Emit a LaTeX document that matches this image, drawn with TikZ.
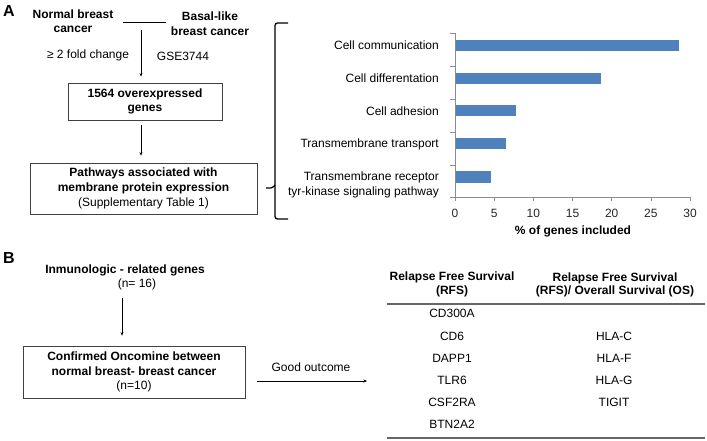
\documentclass[tikz,border=0pt]{standalone}
\usepackage{fontspec}
\setmainfont{Liberation Sans}
\usetikzlibrary{arrows.meta}
\definecolor{barblue}{HTML}{4F81BD}
\begin{document}
\begin{tikzpicture}[x=1pt,y=-1pt,
  txt/.style={inner sep=0pt, align=center, font=\fontsize{12}{14.5}\selectfont},
  btxt/.style={inner sep=0pt, align=center, font=\fontsize{12}{14.5}\selectfont\bfseries},
  rtxt/.style={inner sep=0pt, align=right, anchor=east, font=\fontsize{12}{15.5}\selectfont},
  fbox/.style={draw=black!75, line width=0.8pt, inner sep=0pt, align=center, font=\fontsize{12}{14.5}\selectfont},
  arr/.style={-{Stealth[length=3.5pt,width=3pt]}, line width=0.6pt},
  axisline/.style={draw=black!45, line width=0.6pt},
  rulestyle/.style={draw=black!60, line width=1.4pt},
  letter/.style={inner sep=0pt, font=\fontsize{16}{18}\selectfont\bfseries}]
\useasboundingbox (0,0) rectangle (707,441);

% ---------- Panel A ----------
\node[letter] (A) at (9,11) {A};
\node[btxt] (nb) at (73,21) {Normal breast\\cancer};
\node[btxt] (bl) at (210,23.5) {Basal-like\\breast cancer};
\coordinate (l1) at (123,22);
\coordinate (l2) at (166,22);
\draw[line width=0.6pt] (l1) -- (l2);
\node[txt] (fc) at (88,55) {≥ 2 fold change};
\node[txt] (gse) at (183,56) {GSE3744};

\node[fbox, minimum width=154pt, minimum height=37pt] (b1) at (145,101.5)
  {\textbf{1564 overexpressed}\\\textbf{genes}};
\node[fbox, minimum width=227pt, minimum height=51pt, font=\fontsize{12}{15}\selectfont] (b2) at (143.5,188.5)
  {\textbf{Pathways associated with}\\\textbf{membrane protein expression}\\(Supplementary Table 1)};

\coordinate (a1s) at (141,30);
\draw[arr, shorten >=6pt] (a1s) -- (a1s |- b1.north);
\coordinate (a2s) at (141,125);
\draw[arr, shorten >=7pt] (a2s) -- (a2s |- b2.north);

% bracket
\coordinate (bt) at (288,23);
\coordinate (bb) at (288,219);
\coordinate (bn) at (266,188);
\draw[line width=1.3pt, rounded corners=2.5pt] (bt) -- (275,23) -- (275,219) -- (bb);
\draw[line width=1.3pt, rounded corners=2pt] (bn) -- (273,188) -- (275,185);

% chart
\foreach \v/\yy in {28.6/46, 18.6/78.5, 7.8/111, 6.5/144, 4.6/177}
  \fill[barblue] (455,\yy-5.5) rectangle ({455+7.833*\v},\yy+5.5);
\draw[axisline] (455,33) -- (455,197) -- (690,197);
\foreach \yy in {33,66,99,132,165,197}
  \draw[axisline] (450,\yy) -- (455,\yy);
\foreach \k in {0,...,6}
  \draw[axisline] ({455+39.17*\k},197) -- ({455+39.17*\k},201);
\foreach \k in {0,...,6}
  \node[txt, text=black!85] (t\k) at ({455+39.17*\k},213.5) {\pgfmathparse{int(5*\k)}\pgfmathresult};
\node[btxt] (xt) at (573,231) {\% of genes included};

\node[rtxt] (c1) at (439,45.5) {Cell communication};
\node[rtxt] (c2) at (439,78) {Cell differentation};
\node[rtxt] (c3) at (439,111) {Cell adhesion};
\node[rtxt] (c4) at (439,144) {Transmembrane transport};
\node[rtxt] (c5) at (439,185) {Transmembrane receptor\\tyr-kinase signaling pathway};

% ---------- Panel B ----------
\node[letter] (B) at (9,258) {B};
\node[btxt] (im) at (125,270) {Inmunologic - related genes};
\node[txt] (n16) at (137,284.5) {(n= 16)};
\node[fbox, minimum width=222pt, minimum height=52pt] (b3) at (134,372)
  {\textbf{Confirmed Oncomine between}\\\textbf{normal breast- breast cancer}\\(n=10)};
\coordinate (a3s) at (122,298);
\draw[arr, shorten >=10pt] (a3s) -- (a3s |- b3.north);

\coordinate (go1) at (257,381);
\coordinate (go2) at (367,381);
\draw[arr] (go1) -- (go2);
\node[txt] (go) at (311,367) {Good outcome};

% table
\node[btxt, font=\fontsize{12}{13.5}\selectfont\bfseries] (h1) at (452,284.5) {Relapse Free Survival\\(RFS)};
\node[btxt, font=\fontsize{12}{13.5}\selectfont\bfseries] (h2) at (615,285) {Relapse Free Survival\\(RFS)/ Overall Survival (OS)};
\coordinate (r1a) at (387,304);
\coordinate (r1b) at (705,304);
\coordinate (r2a) at (387,438);
\coordinate (r2b) at (705,438);
\draw[rulestyle] (r1a) -- (r1b);
\draw[rulestyle] (r2a) -- (r2b);
\node[txt] (g1) at (452,313.5) {CD300A};
\node[txt] (g2) at (452,336) {CD6};
\node[txt] (g3) at (452,358) {DAPP1};
\node[txt] (g4) at (452,380) {TLR6};
\node[txt] (g5) at (452,402.5) {CSF2RA};
\node[txt] (g6) at (452,424.5) {BTN2A2};
\node[txt] (k1) at (614,336) {HLA-C};
\node[txt] (k2) at (614,358) {HLA-F};
\node[txt] (k3) at (614,380) {HLA-G};
\node[txt] (k4) at (614,402) {TIGIT};
\end{tikzpicture}
\end{document}
